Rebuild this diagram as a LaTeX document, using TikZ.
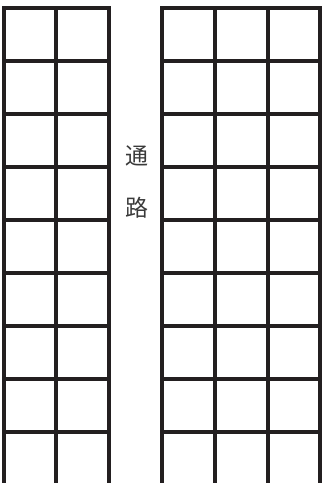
\documentclass[tikz,border=0pt]{standalone}
\usepackage{fontspec}
\newfontfamily\cjk{Noto Sans CJK JP}
\definecolor{ink}{HTML}{231F20}
\definecolor{txt}{HTML}{3A3A3A}
\begin{document}
\begin{tikzpicture}[x=1pt,y=-1pt,
  gridline/.style={draw=ink,line width=3.2pt},
  label/.style={font=\cjk\fontsize{23}{26}\selectfont,text=txt,inner sep=0pt}]
\useasboundingbox (0,0) rectangle (322,483);
% left block
\foreach \x in {4,56,109} \draw[gridline] (\x,6.4) -- (\x,483);
\foreach \y in {8,61,114,167,220,273,326,379,432} \draw[gridline] (2.4,\y) -- (110.6,\y);
% right block
\foreach \x in {162,215,268,320} \draw[gridline] (\x,6.4) -- (\x,483);
\foreach \y in {8,61,114,167,220,273,326,379,432} \draw[gridline] (160.4,\y) -- (322,\y);
\node[label] (t1) at (137,156) {通};
\node[label] (t2) at (137,208) {路};
\end{tikzpicture}
\end{document}
